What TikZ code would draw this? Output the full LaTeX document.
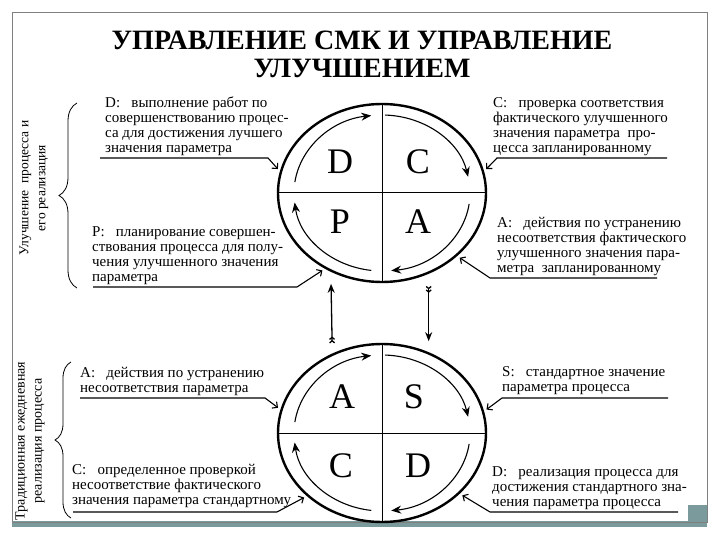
\documentclass[tikz,border=0pt]{standalone}
\usepackage{fontspec}
\setmainfont{Liberation Serif}[BoldFont={Liberation Serif Bold}]
\usetikzlibrary{arrows.meta,shapes.geometric,decorations.pathreplacing}
\definecolor{framegray}{RGB}{128,128,128}
\definecolor{shadowteal}{RGB}{122,154,156}
\tikzset{
  ring/.style={draw, ellipse, line width=2.4pt, inner sep=0pt, minimum width=208pt, minimum height=178pt},
  letter/.style={font=\fontsize{36}{36}\selectfont},
  note/.style={anchor=north west, align=left, inner sep=0pt, font=\fontsize{15}{15}\selectfont},
  leader/.style={line width=1.1pt, -{Straight Barb[length=4pt,width=8pt]}, shorten >=3pt},
  turn/.style={line width=1.1pt, -{Stealth[length=10pt,width=8pt]}},
  link/.style={line width=1.3pt, {Straight Barb[reversed,length=2pt,width=5pt]Straight Barb[reversed,length=2pt,width=5pt]}-{Stealth[length=9pt,width=7pt]}},
  side/.style={rotate=90, align=center, font=\fontsize{#1}{17}\selectfont},
  curly/.style={line width=0.8pt, decorate, decoration={brace, amplitude=#1}},
}
\begin{document}
\begin{tikzpicture}[x=1pt,y=-1pt]
  \useasboundingbox (0,0) rectangle (720,540);
  % frame and shadow
  \fill[shadowteal] (12,521) rectangle (707,527);
  \fill[shadowteal] (688,505) rectangle (707,527);
  \draw[framegray, line width=0.8pt] (12,12) rectangle (707,522);

  \node[font=\fontsize{28}{28}\selectfont\bfseries, align=center] (title) at (362,54)
    {УПРАВЛЕНИЕ СМК И УПРАВЛЕНИЕ\\УЛУЧШЕНИЕМ};

  % the two cycles
  \node[ring] (pdca) at (382,193) {};
  \node[ring] (sdca) at (382,433) {};
  \foreach \nm in {pdca,sdca} {
    \draw[line width=1pt] (\nm.north) -- (\nm.south);
    \draw[line width=1pt] (\nm.west) -- (\nm.east);
    \foreach \a/\b in {188/263, 272/348, 8/84, 97/173} {
      \draw[turn] ([shift={(\a:88 and 78)}]\nm.center) arc[start angle=\a, end angle=\b, x radius=88, y radius=78];
    }
  }

  \node[letter] (pD) at (340,162) {D};
  \node[letter] (pC) at (418,162) {C};
  \node[letter] (pP) at (340,222) {P};
  \node[letter] (pA) at (418,222) {A};
  \node[letter] (sA) at (342,397) {A};
  \node[letter] (sS) at (414,397) {S};
  \node[letter] (sC) at (341,466) {C};
  \node[letter] (sD) at (418,466) {D};

  % notes of the upper cycle
  \node[note] (pdnote) at (105,97) {D:\ \ \ выполнение работ по\\совершенствованию процес-\\са для достижения лучшего\\значения параметра};
  \node[note] (ppnote) at (92,226) {P:\ \ \ планирование совершен-\\ствования процесса для полу-\\чения улучшенного значения\\параметра};
  \node[note] (pcnote) at (493,97) {C:\ \ \ проверка соответствия\\фактического улучшенного\\значения параметра\ \ про-\\цесса запланированному};
  \node[note] (panote) at (497,217) {A:\ \ \ действия по устранению\\несоответствия фактического\\улучшенного значения пара-\\метра\ \ запланированному};

  % notes of the lower cycle
  \node[note] (sanote) at (80,367) {A:\ \ \ действия по устранению\\несоответствия параметра};
  \node[note] (scnote) at (72,464) {C:\ \ \ определенное проверкой\\несоответствие фактического\\значения параметра стандартному};
  \node[note] (ssnote) at (502,366) {S:\ \ \ стандартное значение\\параметра процесса};
  \node[note] (sdnote) at (492,466) {D:\ \ \ реализация процесса для\\достижения стандартного зна-\\чения параметра процесса};

  \coordinate (pdfoot) at (100,158);
  \coordinate (ppfoot) at (93,287);
  \coordinate (pcfoot) at (667,158);
  \coordinate (pafoot) at (657,278);
  \coordinate (safoot) at (80,398);
  \coordinate (scfoot) at (73,512);
  \coordinate (ssfoot) at (668,398);
  \coordinate (sdfoot) at (678,512);

  \draw[leader] (pdfoot) -- ++(168,0) -- (pdca.168);
  \draw[leader] (ppfoot) -- ++(204,0) -- (pdca.233.6);
  \draw[leader] (pcfoot) -- ++(-170,0) -- (pdca.12.6);
  \draw[leader] (pafoot) -- ++(-167,0) -- (pdca.-40);
  \draw[leader] (safoot) -- ++(185,0) -- (sdca.167.6);
  \draw[leader] (scfoot) -- ++(204,0) -- (sdca.220);
  \draw[leader] (ssfoot) -- ++(-166,0) -- (sdca.12.4);
  \draw[leader] (sdfoot) -- ++(-188,0) -- (sdca.-38.7);

  % links between the cycles
  \draw[link, shorten <=10pt, shorten >=12pt] (sdca.122.7) -- (pdca.237.3);
  \draw[link, shorten <=12pt, shorten >=11pt] (pdca.-60) -- (sdca.60);

  % braces and side captions
  \draw[curly=18pt] (77,288) -- (77,103);
  \draw[curly=16pt] (71,518) -- (71,362);
  \node[side=13.5] (upside) at (34,188) {Улучшение\ \ процесса и\\его реализация};
  \node[side=14] (dayside) at (30,441) {Традиционная ежедневная\\реализация процесса};
\end{tikzpicture}
\end{document}
